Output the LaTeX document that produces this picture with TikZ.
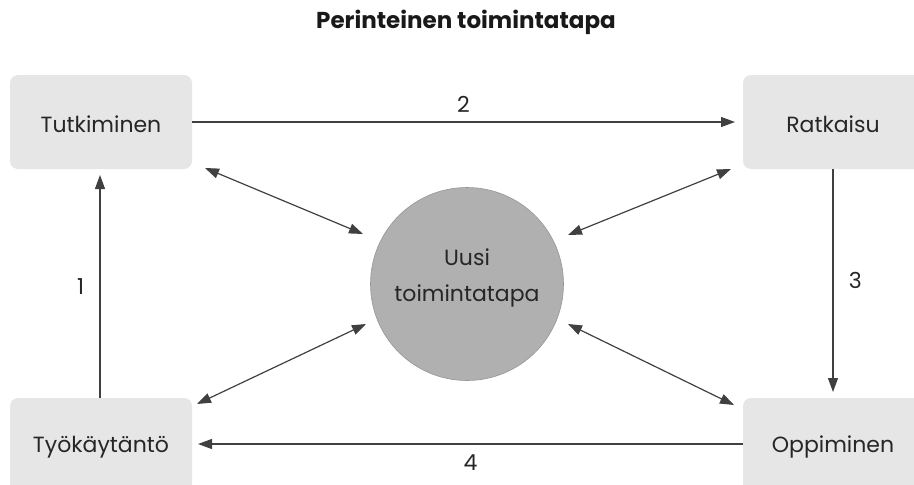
\documentclass[tikz,border=0pt]{standalone}
\usepackage{fontspec}
\setmainfont{Poppins}
\usetikzlibrary{arrows.meta}
\definecolor{boxgray}{HTML}{E6E6E6}
\definecolor{circgray}{HTML}{B0B0B0}
\tikzset{
  procbox/.style={fill=boxgray, draw=none, rounded corners=8pt, minimum width=182pt, minimum height=94pt, inner sep=0pt},
  lbl/.style={font=\fontsize{22}{26}\selectfont, text=black!85},
  conn/.style={draw=black!75, line width=1.2pt, -{Triangle[length=14pt,width=10pt]}},
  dconn/.style={draw=black!75, line width=1.2pt, {Triangle[length=14pt,width=10pt]}-{Triangle[length=14pt,width=10pt]}},
}
\begin{document}
\begin{tikzpicture}[x=1pt,y=-1pt]
\path[use as bounding box] (0,0) rectangle (914,485);
\clip (0,0) rectangle (914,485);
\node[font=\fontsize{23}{26}\selectfont\bfseries, text=black!90] (title) at (466,22) {Perinteinen toimintatapa};
\node[procbox] (tut) at (101,122) {};
\node[lbl] at (101,124) {Tutkiminen};
\node[procbox] (rat) at (834,122) {};
\node[lbl] at (833,124) {Ratkaisu};
\node[procbox] (tyo) at (101,445) {};
\node[lbl] at (101,447) {Työkäytäntö};
\node[procbox] (opp) at (834,445) {};
\node[lbl] at (833,447) {Oppiminen};
\node[circle, fill=circgray, draw=circgray!85!black, line width=0.6pt, minimum size=193pt, inner sep=0pt] (uusi) at (467,284) {};
\node[lbl, align=center, font=\fontsize{22}{36}\selectfont] at (467,278) {Uusi\\toimintatapa};
% cycle arrows
\coordinate (a2s) at (192,122); \coordinate (a2e) at (735,122);
\draw[conn] (a2s) -- (a2e) node[midway, above=6pt, lbl] {2};
\coordinate (a3s) at (833,169); \coordinate (a3e) at (833,392);
\draw[conn] (a3s) -- (a3e) node[midway, right=12pt, lbl] {3};
\coordinate (a4s) at (743,444); \coordinate (a4e) at (198,444);
\draw[conn] (a4s) -- (a4e) node[midway, below=7pt, lbl] {4};
\coordinate (a1s) at (100,398); \coordinate (a1e) at (100,175);
\draw[conn] (a1s) -- (a1e) node[midway, left=12pt, lbl] {1};
% diagonal arrows
\coordinate (d1a) at (205,168); \coordinate (d1b) at (363,234);
\draw[dconn] (d1a) -- (d1b);
\coordinate (d2a) at (731,169); \coordinate (d2b) at (568,235);
\draw[dconn] (d2a) -- (d2b);
\coordinate (d3a) at (197,404); \coordinate (d3b) at (366,324);
\draw[dconn] (d3a) -- (d3b);
\coordinate (d4a) at (734,405); \coordinate (d4b) at (568,324);
\draw[dconn] (d4a) -- (d4b);
\end{tikzpicture}
\end{document}
